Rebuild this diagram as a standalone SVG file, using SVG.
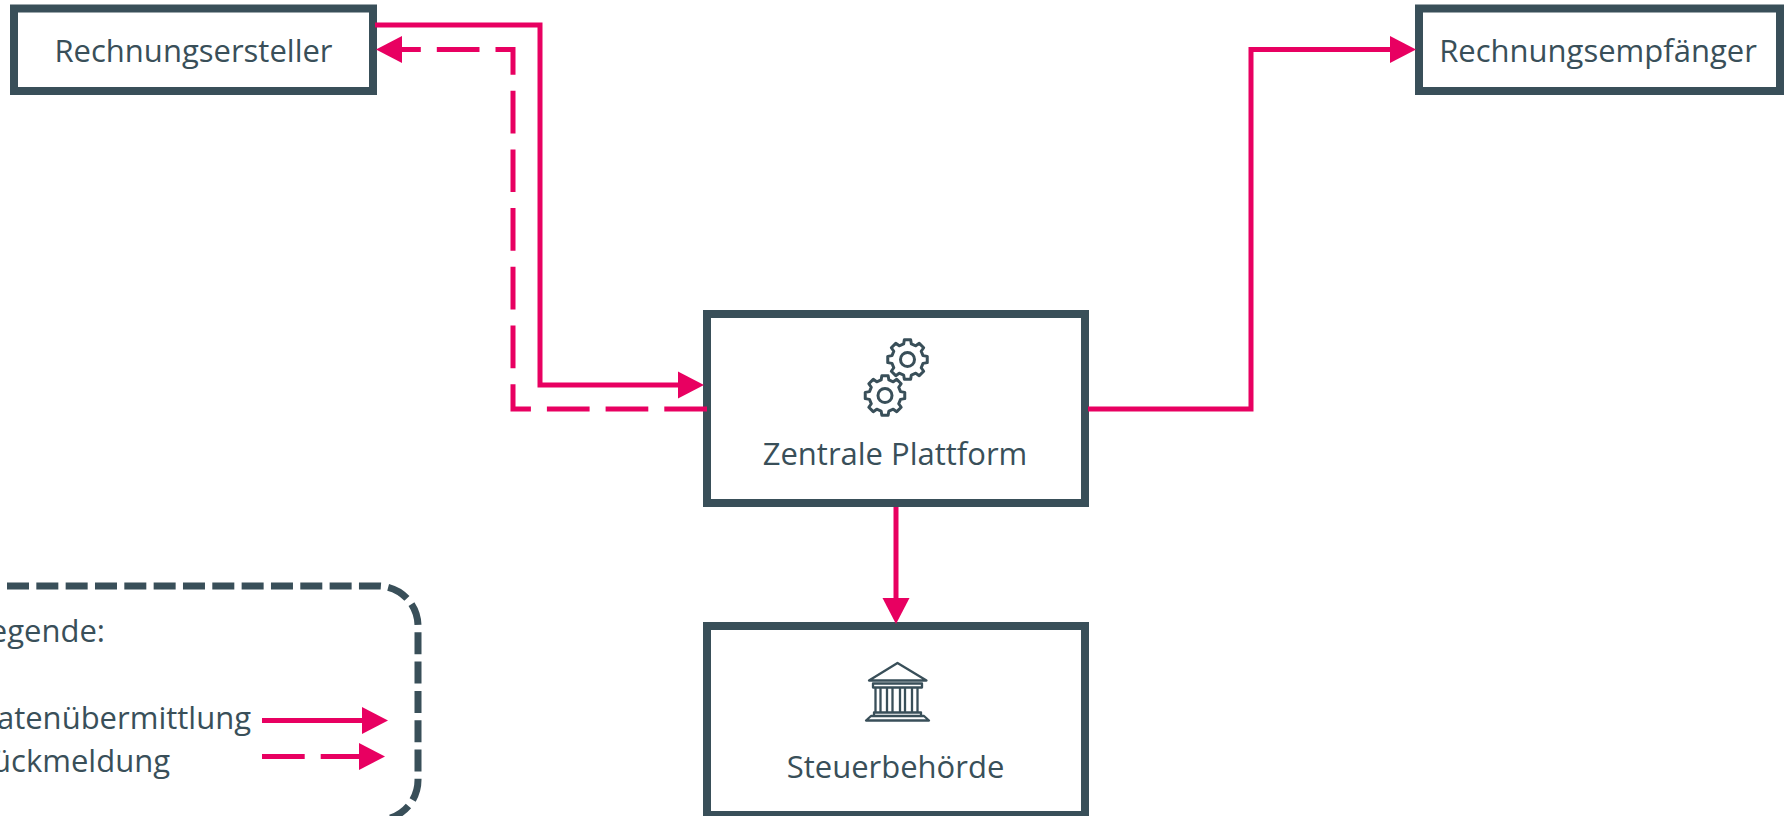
<svg xmlns="http://www.w3.org/2000/svg" width="1785" height="816" viewBox="0 0 1785 816">
<style>
.box{fill:#fff;stroke:#394f59;stroke-width:8}
.t{font-family:"Open Sans","Noto Sans","Liberation Sans",sans-serif;font-size:31px;fill:#394f59;text-anchor:middle}
.e{text-anchor:end}
.c{fill:none;stroke:#e80061;stroke-width:5}
.d{stroke-dasharray:42.7 16}
.i{fill:none;stroke:#394f59;stroke-width:3;stroke-linejoin:round}
.n{stroke-width:2.300}
</style>
<defs>
<marker id="a" markerUnits="userSpaceOnUse" markerWidth="26" markerHeight="28" refX="14" refY="14" orient="auto"><path d="M0 .5L26 14L0 27.500Z" fill="#e80061"/></marker>
<path id="gear" d="M19.75-3.13L19.75 3.13 15.52 3.87 13.71 8.24 16.18 11.76 11.76 16.18 8.24 13.71 3.87 15.52 3.13 19.75-3.13 19.75-3.87 15.52-8.24 13.71-11.76 16.18-16.18 11.76-13.71 8.24-15.52 3.87-19.75 3.13-19.75-3.13-15.52-3.87-13.71-8.24-16.18-11.76-11.76-16.18-8.24-13.71-3.87-15.52-3.13-19.75 3.13-19.75 3.87-15.52 8.24-13.71 11.76-16.18 16.18-11.76 13.71-8.24 15.52-3.87Z"/>
</defs>
<g id="rechnungsersteller"><rect class="box" x="14" y="8.500" width="359" height="82.500"/><text class="t" x="193.500" y="62">Rechnungsersteller</text></g>
<g id="rechnungsempfaenger"><rect class="box" x="1419" y="8.500" width="361" height="82.500"/><text class="t" x="1598" y="62">Rechnungsempfänger</text></g>
<g id="zentrale-plattform"><rect class="box" x="707" y="314" width="378" height="189"/>
<use href="#gear" class="i" x="907.500" y="359.500"/><circle class="i" cx="907.500" cy="359.500" r="7"/>
<use href="#gear" class="i" x="885" y="395.500"/><circle class="i" cx="885" cy="395.500" r="7"/>
<text class="t" x="895" y="464.500">Zentrale Plattform</text></g>
<g id="steuerbehoerde"><rect class="box" x="707" y="626" width="378" height="189"/>
<path class="i n" d="M897.500 663L869 680.500H926.500Z M873 683.500H922V687.500H873Z M875.500 688V712M880.500 688V712M887 688V712M892.500 688V712M900 688V712M905 688V712M912 688V712M917.500 688V712M874 712.500H921V716H874Z M871 716H924L929 720.500H866Z"/>
<text class="t" x="895.500" y="777.500">Steuerbehörde</text></g>
<g id="connectors">
<path class="c" d="M375 25H540V385H692" marker-end="url(#a)"/>
<path class="c d" d="M707 409H513V49.500H388" marker-end="url(#a)"/>
<path class="c" d="M1088 409H1251V49.500H1404" marker-end="url(#a)"/>
<path class="c" d="M896 507V612" marker-end="url(#a)"/>
</g>
<g id="legende">
<path d="M7 586H378A40 40 0 0 1 418 626V780A40 40 0 0 1 378 820H-10" fill="none" stroke="#394f59" stroke-width="7" stroke-dasharray="22 7.330"/>
<text class="t e" x="105" y="642">Legende:</text>
<text class="t e" x="251" y="728.500">Datenübermittlung</text>
<text class="t e" x="170" y="771.500">Rückmeldung</text>
<path class="c" d="M262 720.500H376" marker-end="url(#a)"/>
<path class="c d" d="M262 756.500H373" marker-end="url(#a)"/>
</g>
</svg>
